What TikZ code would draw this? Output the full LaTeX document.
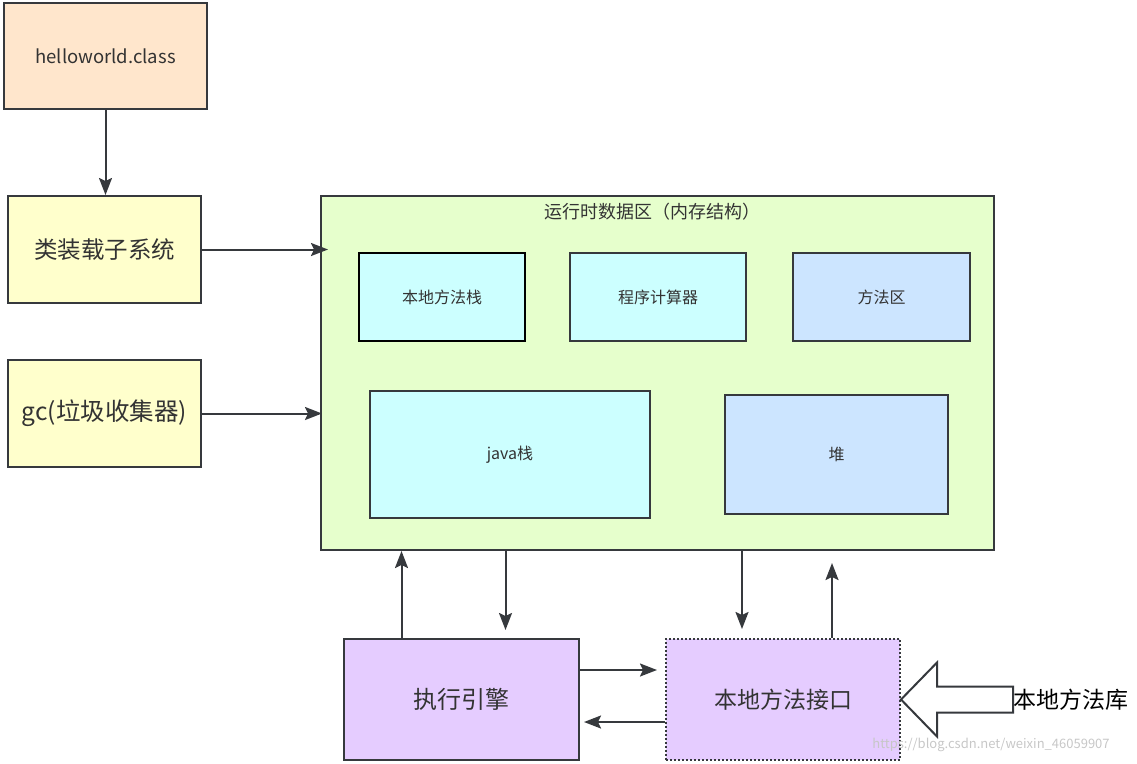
\documentclass[tikz,border=0pt]{standalone}
\usepackage{fontspec}
\setmainfont{Noto Sans CJK SC}
\usetikzlibrary{arrows.meta,calc}
\definecolor{jvm_line}{HTML}{36393D}
\definecolor{jvm_text}{HTML}{333333}
\definecolor{jvm_peach}{HTML}{FFE6CC}
\definecolor{jvm_yellow}{HTML}{FFFFCC}
\definecolor{jvm_green}{HTML}{E6FFCC}
\definecolor{jvm_cyan}{HTML}{CCFFFF}
\definecolor{jvm_blue}{HTML}{CCE5FF}
\definecolor{jvm_purple}{HTML}{E5CCFF}
\tikzstyle{bx}=[rectangle,draw=jvm_line,line width=2pt,text=jvm_text,inner sep=2pt]
\tikzstyle{pk}=[bx,fill=jvm_peach,minimum width=203pt,minimum height=106pt,
  font=\fontsize{18.5}{22}\selectfont]
\tikzstyle{yl}=[bx,fill=jvm_yellow,minimum width=193pt,minimum height=107pt,
  font=\fontsize{23.5}{27}\selectfont]
\tikzstyle{gr}=[bx,fill=jvm_green,minimum width=673pt,minimum height=354pt]
\tikzstyle{cy}=[bx,fill=jvm_cyan,font=\fontsize{16}{19}\selectfont]
\tikzstyle{bl}=[bx,fill=jvm_blue,font=\fontsize{16}{19}\selectfont]
\tikzstyle{pp}=[bx,fill=jvm_purple,minimum height=121pt,
  font=\fontsize{24}{28}\selectfont]
\tikzstyle{arr}=[draw=jvm_line,line width=2pt,
  -{Stealth[length=17pt,width=13pt,inset=3pt]}]

\begin{document}
\begin{tikzpicture}[x=1pt,y=-1pt]
        \useasboundingbox (0,0) rectangle (1137,763);
        % left column
        \node[style=pk] (hello) at (105.5,56) {helloworld.class};
        \node[style=yl] (cls) at (104.5,249.5) {类装载子系统};
        \node[style=yl,font=\fontsize{24.5}{28}\selectfont] (gc) at (104.5,413.5) {gc(垃圾收集器)};
        % runtime data area
        \node[style=gr] (rda) at (657.5,373) {};
        \node[text=jvm_text,font=\fontsize{18}{21}\selectfont] (rdatitle) at (652,212) {运行时数据区（内存结构）};
        \node[style=cy,draw=black,line width=2.6pt,minimum width=166pt,minimum height=88pt] (nst) at (442,297) {本地方法栈};
        \node[style=cy,minimum width=176pt,minimum height=88pt] (pc) at (658,297) {程序计算器};
        \node[style=bl,minimum width=177pt,minimum height=88pt] (mth) at (881.5,297) {方法区};
        \node[style=cy,minimum width=280pt,minimum height=127pt] (jst) at (510,454.5) {java栈};
        \node[style=bl,minimum width=223pt,minimum height=119pt] (heap) at (836.5,454.5) {堆};
        % bottom row
        \node[style=pp,minimum width=235pt] (exec) at (461.5,699.5) {执行引擎};
        \node[style=pp,minimum width=234pt,dash pattern=on 2pt off 2pt,
          font=\fontsize{23}{27}\selectfont] (jni) at (783,699.5) {本地方法接口};
        \node[text=black,font=\fontsize{23}{27}\selectfont,inner sep=0pt] (lib) at (1071,700) {本地方法库};
        \node[text=black!22,font=\fontsize{13}{15}\selectfont,inner sep=0pt] (mark) at (991,745) {https://blog.csdn.net/weixin\_46059907};

        \draw[arr] (hello.south) -- (hello.south |- cls.north);
        \draw[arr,shorten >=-8pt] (cls.east) -- (cls.east -| rda.west);
        \draw[arr,shorten >=-2pt] (gc.east) -- (gc.east -| rda.west);
        \draw[arr] ([xshift=-60pt]exec.north) -- ([xshift=-60pt]exec.north |- rda.south);
        \draw[arr,shorten >=8pt] ([xshift=44pt]exec.north |- rda.south) -- ([xshift=44pt]exec.north);
        \draw[arr,shorten >=9pt] ([xshift=-41pt]jni.north |- rda.south) -- ([xshift=-41pt]jni.north);
        \draw[arr,shorten >=12pt] ([xshift=49pt]jni.north) -- ([xshift=49pt]jni.north |- rda.south);
        \draw[arr,shorten >=8pt] ([yshift=29.5pt]exec.east) -- ([yshift=29.5pt]exec.east -| jni.west);
        \draw[arr,shorten >=4pt] ([yshift=-22.5pt]jni.west) -- ([yshift=-22.5pt]jni.west -| exec.east);
        \draw[draw=jvm_line,fill=white,line width=2pt,line join=miter]
          (jni.east) -- ++(36,-37) -- ++(0,24) -- ++(76,0) -- ++(0,26)
          -- ++(-76,0) -- ++(0,24) -- cycle;
    \end{tikzpicture}
\end{document}
